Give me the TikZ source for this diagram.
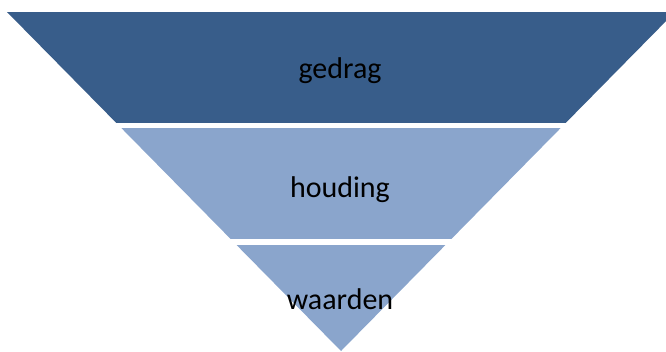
\documentclass[tikz,border=0pt]{standalone}
\usepackage{fontspec}
\setmainfont{Carlito}
\usepackage{xcolor}
\definecolor{layerDark}{HTML}{385D8A}
\definecolor{layerLight}{HTML}{8AA5CC}
\definecolor{labelText}{HTML}{000000}
\usepackage{tikz}
\usetikzlibrary{positioning}
\tikzset{
    % Horizontal band of the funnel
    dark layer/.style={
        fill=layerDark,
    },
    light layer/.style={
        fill=layerLight,
    },
    % Text placed on each band
    layer label/.style={
        font=\fontsize{30}{36}\selectfont,
        text=labelText,
        anchor=base,
        inner sep=0pt,
    },
}

\begin{document}
\begin{tikzpicture}[x=1pt, y=-1pt]
    \useasboundingbox (0,0) rectangle (666,351);

    % outline of the upside-down triangle
    \coordinate (apex) at (341,351);
    \coordinate (topleft) at (7,12);
    \coordinate (topright) at (675,12);

    \begin{scope}
        \clip (topleft) -- (topright) -- (apex) -- cycle;
        \fill[dark layer] (0,12) rectangle (666,123);
        \fill[light layer] (0,128) rectangle (666,239);
        \fill[light layer] (0,245) rectangle (666,352);
    \end{scope}

    \node (behaviour) [layer label] at (340,78) {gedrag};
    \node (attitude) [layer label] at (340,197) {houding};
    \node (values) [layer label] at (340,309) {waarden};
\end{tikzpicture}
\end{document}
